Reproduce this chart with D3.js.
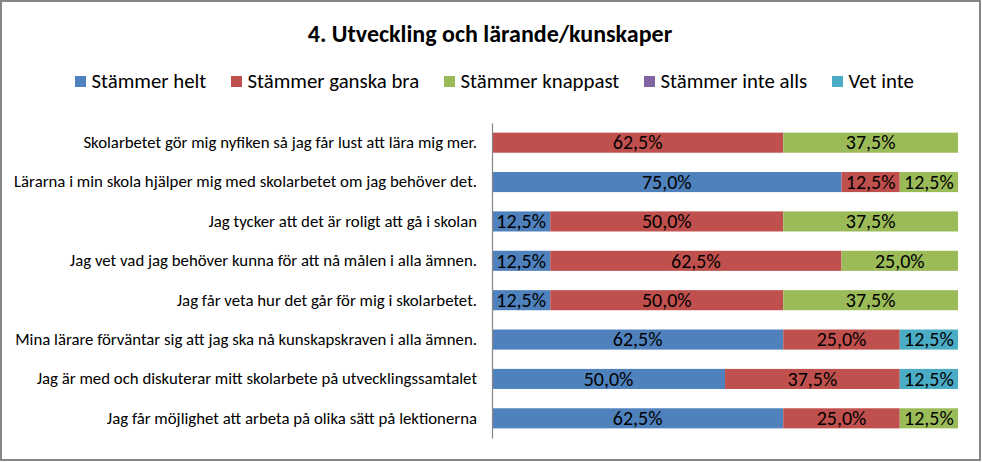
<!DOCTYPE html>
<html>
<head>
<meta charset="utf-8">
<script src="https://cdn.jsdelivr.net/npm/d3@7"></script>
<style>
  body { margin: 0; background: #fff; }
  svg text { font-family: Carlito, Calibri, "Liberation Sans", Arial, sans-serif; }
</style>
</head>
<body>
<div id="chart"></div>
<script>
// Data
const categories = [
    "Skolarbetet gör mig nyfiken så jag får lust att lära mig mer.",
    "Lärarna i min skola hjälper mig med skolarbetet om jag behöver det.",
    "Jag tycker att det är roligt att gå i skolan",
    "Jag vet vad jag behöver kunna för att nå målen i alla ämnen.",
    "Jag får veta hur det går för mig i skolarbetet.",
    "Mina lärare förväntar sig att jag ska nå kunskapskraven i alla ämnen.",
    "Jag är med och diskuterar mitt skolarbete på utvecklingssamtalet",
    "Jag får möjlighet att arbeta på olika sätt på lektionerna"
];
const seriesNames = ["Stämmer helt", "Stämmer ganska bra", "Stämmer knappast", "Stämmer inte alls", "Vet inte"];
const stammerHelt = [0, 75, 12.5, 12.5, 12.5, 62.5, 50, 62.5];
const stammerGanskaBra = [62.5, 12.5, 50, 62.5, 50, 25, 37.5, 25];
const stammerKnappast = [37.5, 12.5, 37.5, 25, 37.5, 0, 0, 12.5];
const stammerInteAlls = [0, 0, 0, 0, 0, 0, 0, 0];
const vetInte = [0, 0, 0, 0, 0, 12.5, 12.5, 0];
const seriesColors = ["#4F81BD", "#C0504D", "#9BBB59", "#8064A2", "#4BACC6"];

const allSeries = [stammerHelt, stammerGanskaBra, stammerKnappast, stammerInteAlls, vetInte];
const rows = categories.map((c, i) => {
    const r = {category: c};
    seriesNames.forEach((s, j) => r[s] = allSeries[j][i]);
    return r;
});

// Canvas
const width = 982, height = 462;
const plot = {left: 492, right: 958, top: 123, bottom: 438};

const svg = d3.select('#chart')
    .append('svg')
    .attr('width', width)
    .attr('height', height);

// Outer border
svg.append('rect')
    .attr('x', 1).attr('y', 1)
    .attr('width', width - 3).attr('height', height - 3)
    .attr('fill', '#fff')
    .attr('stroke', '#868686')
    .attr('stroke-width', 2);

// Title
svg.append('text')
    .attr('x', 490).attr('y', 42)
    .attr('text-anchor', 'middle')
    .attr('font-size', 24)
    .attr('font-weight', 'bold')
    .attr('fill', '#000')
    .text('4. Utveckling och lärande/kunskaper');

// Scales
const x = d3.scaleLinear().domain([0, 100]).range([plot.left, plot.right]);
const y = d3.scaleBand().domain(categories).range([plot.top, plot.bottom]).paddingInner(0.49).paddingOuter(0.245);
const color = d3.scaleOrdinal(seriesNames, seriesColors);

// Legend
const legendX = [75, 231, 444, 644, 832];
const legend = svg.append('g').selectAll('g')
    .data(seriesNames)
    .join('g')
    .attr('transform', (d, i) => `translate(${legendX[i]},81)`);
legend.append('rect')
    .attr('x', 0).attr('y', -5)
    .attr('width', 11).attr('height', 11)
    .attr('fill', d => color(d));
legend.append('text')
    .attr('x', 16.5).attr('y', 7)
    .attr('font-size', 20.8)
    .attr('fill', '#000')
    .text(d => d);

// Stacked bars
const stacked = d3.stack().keys(seriesNames)(rows);

const layer = svg.append('g')
    .selectAll('g')
    .data(stacked)
    .join('g')
    .attr('fill', d => color(d.key));

layer.selectAll('rect')
    .data(d => d.filter(p => p[1] - p[0] > 0))
    .join('rect')
    .attr('x', d => x(d[0]))
    .attr('y', d => y(d.data.category))
    .attr('width', d => x(d[1]) - x(d[0]))
    .attr('height', y.bandwidth());

layer.selectAll('text')
    .data(d => d.filter(p => p[1] - p[0] > 0))
    .join('text')
    .attr('x', d => (x(d[0]) + x(d[1])) / 2)
    .attr('y', d => y(d.data.category) + y.bandwidth() / 2)
    .attr('dy', '0.34em')
    .attr('text-anchor', 'middle')
    .attr('font-size', 20)
    .attr('fill', '#000')
    .text(d => d3.format('.1f')(d[1] - d[0]).replace('.', ',') + '%');

// Category axis
const yAxis = svg.append('g')
    .attr('transform', `translate(${plot.left},0)`)
    .call(d3.axisLeft(y).tickSize(0).tickPadding(15));
yAxis.select('.domain').attr('stroke', '#868686').attr('stroke-width', 1.2);
yAxis.selectAll('text')
    .attr('font-size', 16.8)
    .attr('fill', '#000')
    .style('font-family', 'Carlito, Calibri, "Liberation Sans", Arial, sans-serif');
</script>
</body>
</html>
